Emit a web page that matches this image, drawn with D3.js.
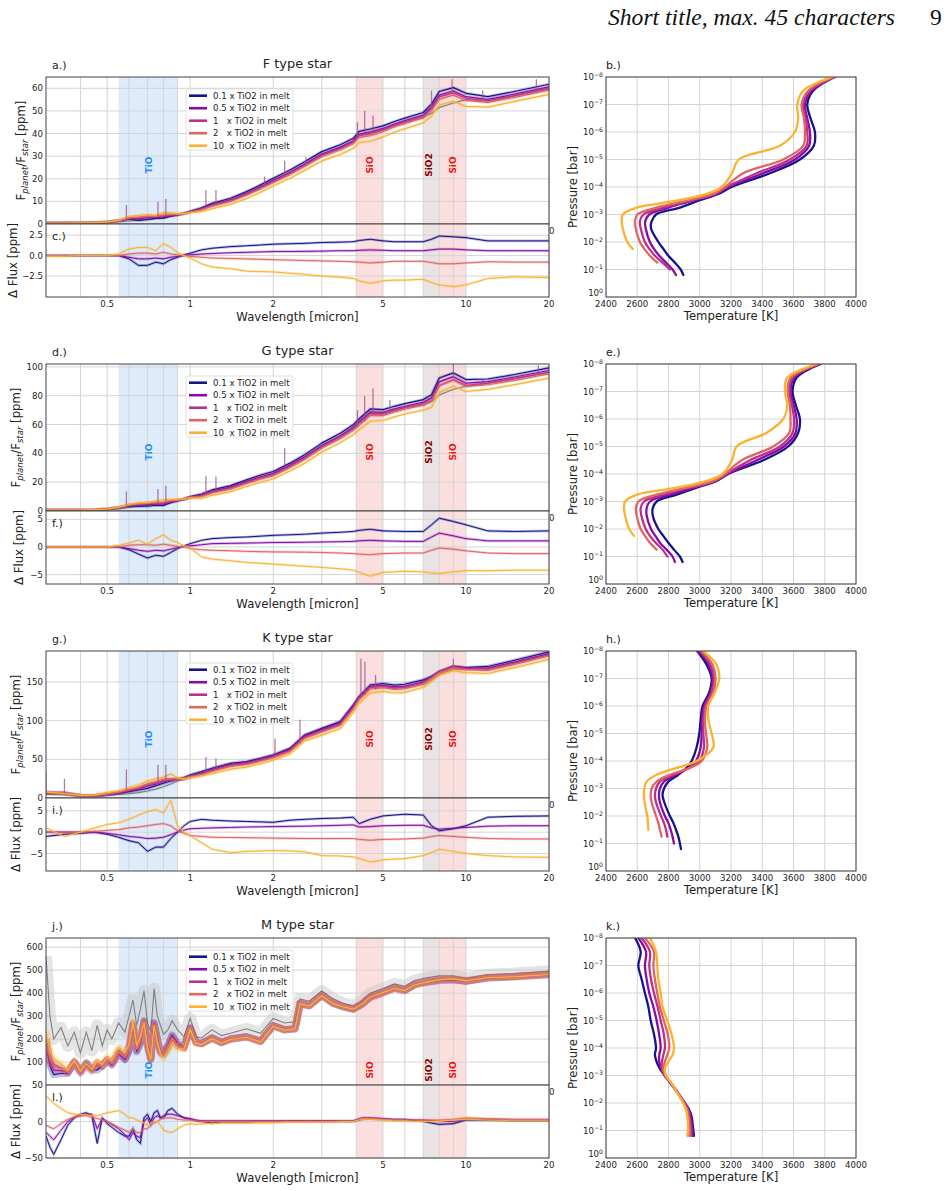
<!DOCTYPE html>
<html>
<head>
<meta charset="utf-8">
<script src="https://cdn.jsdelivr.net/npm/d3@7"></script>
<style>
  body { margin: 0; background: #fff; }
  svg text { font-family: "DejaVu Sans", sans-serif; fill: #222; }
</style>
</head>
<body>
<svg id="fig" width="951" height="1191"></svg>
<script>
// ---------- data ----------
var seriesNames = ["0.1 x TiO2 in melt", "0.5 x TiO2 in melt", "1   x TiO2 in melt", "2   x TiO2 in melt", "10  x TiO2 in melt"];
var seriesColors = ["#14148c", "#8b0aa5", "#b83289", "#e16462", "#fbb32f"];
var starTitles = ["F type star", "G type star", "K type star", "M type star"];
var panelTags = [["a.)", "c.)", "b.)"], ["d.)", "f.)", "e.)"], ["g.)", "i.)", "h.)"], ["j.)", "l.)", "k.)"]];

var wlTicks = [0.5, 1, 2, 5, 10, 20];
var wlGrid = [0.4, 0.5, 0.6, 0.7, 0.8, 0.9, 1, 2, 3, 4, 5, 6, 7, 8, 9, 10, 20];
var bandNames = ["TiO", "SiO", "SiO2", "SiO"];
var bandLo = [0.55, 4, 7, 8];
var bandHi = [0.9, 5, 8, 10];
var bandLabelWl = [0.71, 4.47, 7.35, 8.97];

// wavelength grid [micron] for F, G, K spectra
var wl = [0.30,0.35,0.40,0.45,0.50,0.55,0.60,0.65,0.70,0.75,0.80,0.85,0.90,0.95,1.0,1.1,1.2,1.4,1.6,1.8,2.0,2.3,2.6,3.0,3.5,3.9,4.1,4.5,5.0,5.5,6.0,7.0,7.5,8.0,9.0,10,12,15,20];

// F star: 1x TiO2 spectrum [ppm], no-TiO reference (grey), deltas of the other melts
var refF = [0.4,0.4,0.5,0.6,0.9,1.5,2.6,2.8,3.2,3.3,3.6,4.0,4.2,4.6,5.3,6.5,8.2,10.3,13.1,16.0,18.8,22.4,26.0,30.4,33.4,36.2,39.1,40.0,41.6,43.6,45.1,47.6,51.0,56.2,58.0,55.6,54.5,56.8,60.0];
var grayF = [0.3,0.3,0.3,0.4,0.6,0.9,1.3,1.7,2.1,2.5,3.0,3.5,4.0,4.5,5.2,6.5,8.2,10.3,13.1,16.0,18.8,22.4,26.0,30.4,33.4,36.2,39.1,40.0,41.6,43.6,45.1,47.2,49.0,51.5,53.5,55.0,54.3,56.6,59.8];
var dNavyF = [0,0,0,0,0,0,-0.4,-1.2,-1.2,-0.8,-1.0,-0.5,-0.2,0.1,0.3,0.7,0.9,1.1,1.2,1.3,1.4,1.45,1.5,1.6,1.65,1.7,1.85,2.0,1.8,1.7,1.7,1.7,2.0,2.4,2.3,2.2,1.8,1.8,1.8];
var dPurpleF = [0,0,0,0,0,0,-0.2,-0.4,-0.4,-0.3,-0.4,-0.2,-0.1,0,0.1,0.2,0.25,0.35,0.4,0.45,0.5,0.5,0.52,0.55,0.6,0.6,0.65,0.7,0.65,0.6,0.6,0.6,0.7,0.8,0.8,0.7,0.6,0.6,0.6];
var dRedF = [0,0,0,0,0,0,0.2,0.3,0.3,0.2,0.4,0.2,0.1,0,-0.1,-0.2,-0.3,-0.35,-0.4,-0.45,-0.5,-0.55,-0.6,-0.65,-0.7,-0.75,-0.8,-0.9,-0.8,-0.7,-0.7,-0.7,-0.85,-1.0,-1.0,-0.9,-0.75,-0.8,-0.8];
var dYellowF = [-0.1,-0.1,0,0,0,0.2,0.8,1.0,1.0,0.6,1.5,1.0,0.4,0,-0.3,-1.0,-1.4,-1.6,-1.9,-1.95,-2.0,-2.15,-2.3,-2.5,-2.65,-2.8,-3.1,-3.4,-3.1,-3.0,-3.0,-2.9,-3.3,-3.6,-3.8,-3.6,-2.8,-2.6,-2.7];
var spikesF = [[0.587,2.5,8.4],[0.764,3.4,9.9],[0.816,3.7,11],[1.14,7,15],[1.24,8.5,15],[1.86,17,21],[2.2,21,28],[2.63,26,29.5],[4.04,38,45],[4.29,40,50],[4.6,41,48],[7.5,51,59],[8.9,58,64],[11.5,55,59],[18,59,64]];

// G star
var refG = [0.7,0.7,0.7,0.9,1.4,2.5,4.0,4.6,5.3,5.5,5.6,6.8,7.4,8.2,9.4,10.6,13.1,15.9,19.8,23.0,25.3,31.0,36.7,44.6,51.3,57.1,61.0,67.6,67.4,69.8,71.7,74.5,76.7,87.1,91.2,87.2,88.7,91.9,96.4];
var grayG = [0.5,0.5,0.5,0.6,1.0,1.5,2.5,3.3,4.0,4.8,5.5,6.3,7.0,7.8,9.0,10.6,13.1,15.9,19.8,23.0,25.3,31.0,36.7,44.6,51.3,57.1,61.0,67.6,67.4,69.8,71.7,73.5,76.0,80.5,84.5,86.5,88.5,91.8,96.3];
var dNavyG = [0,0,0,0,0,0,-0.5,-1.3,-2.0,-1.5,-1.7,-1.0,-0.3,0.2,0.6,1.2,1.5,1.7,1.8,1.95,2.1,2.2,2.3,2.5,2.65,2.8,3.0,3.2,2.9,2.85,2.8,2.8,4.0,5.2,4.6,4.0,2.9,2.8,2.9];
var dPurpleG = [0,0,0,0,0,0,-0.3,-0.6,-0.8,-0.6,-0.7,-0.4,-0.1,0.1,0.2,0.4,0.6,0.65,0.7,0.75,0.8,0.82,0.85,0.9,0.95,1.0,1.1,1.2,1.1,1.05,1.0,1.0,1.8,2.5,2.0,1.5,1.1,1.1,1.1];
var dRedG = [0,0,0,0,0,0,0.3,0.4,0.4,0.3,0.5,0.3,0.1,0,-0.3,-0.5,-0.6,-0.7,-0.8,-0.85,-0.9,-0.92,-0.95,-1.0,-1.1,-1.2,-1.3,-1.4,-1.2,-1.15,-1.1,-1.1,-0.6,-0.2,-0.4,-0.7,-1.1,-1.2,-1.2];
var dYellowG = [0,0,0,0,0,0.3,0.7,1.2,0.5,1.5,2.2,1.2,0.8,0.2,-0.2,-1.8,-2.2,-2.5,-2.8,-2.95,-3.1,-3.3,-3.5,-3.7,-3.95,-4.2,-4.6,-5.3,-4.6,-4.5,-4.4,-4.5,-4.7,-4.8,-4.5,-4.3,-4.3,-4.2,-4.2];
var spikesG = [[0.587,4,13.5],[0.764,5.5,15.3],[0.816,6,17.6],[1.14,11,24.4],[1.24,13,24],[2.2,30,43.6],[4.04,58,70],[4.29,62,80],[4.6,68,85],[5.3,68,77],[9,92,102],[11.5,88,91],[18.3,96,101]];

// K star
var refK = [7,6.5,3.3,3,5.2,7.2,10.2,12.8,17,19.5,22.5,23.5,24.6,24.8,27.2,31,35.6,42.2,44.5,48.9,53.3,61.4,78.5,86.8,95.4,116.5,129,143,144.2,142,142.8,148.6,155.5,162.7,169.2,167,166.5,174.3,185.2];
var grayK = [5,4,2,2,3,4.5,5.5,7,9,11.5,14.5,18,22,24.5,27,31,35.6,42.2,44.5,48.9,53.3,61.4,78.5,86.8,95.4,116.5,129,143,144.2,142,142.8,147,152,160,166,166.5,166.5,174.3,185.2];
var dNavyK = [-1,-0.5,-0.3,0,-0.5,-1.2,-2,-2.5,-4.5,-3.5,-3.5,-1.5,0,1.5,2.5,3.0,2.8,2.6,2.5,2.4,2.3,2.8,3.0,3.2,3.3,3.5,2.0,3.0,3.8,4.0,4.2,4.0,1.5,0.3,0.8,1.5,3.5,3.7,3.8];
var dPurpleK = [0,0,0,0,-0.3,-0.6,-1,-1.2,-1.5,-1.4,-1.2,-0.6,0,0.5,0.8,0.9,1.0,1.1,1.2,1.25,1.3,1.35,1.4,1.5,1.6,1.7,1.2,1.3,1.5,1.55,1.6,1.6,1.0,0.7,0.9,1.1,1.4,1.5,1.5];
var dRedK = [0,0,0,0.2,0.4,0.6,1.0,1.2,1.5,1.8,2.0,1.5,0.3,-0.3,-0.8,-1.0,-1.2,-1.25,-1.3,-1.35,-1.4,-1.45,-1.5,-1.5,-1.5,-1.5,-1.7,-1.9,-1.7,-1.65,-1.6,-1.4,-1.0,-0.8,-1.0,-1.2,-1.5,-1.6,-1.6];
var dYellowK = [1,-1,0,1.0,1.8,2.2,3.0,4.0,4.8,5.3,4.5,7.5,1.5,0,-0.8,-2.5,-4.0,-4.8,-4.5,-4.4,-4.3,-4.4,-4.6,-5.5,-5.6,-5.8,-6.2,-7.0,-6.5,-6.3,-6.2,-5.5,-4.8,-4.0,-4.5,-5.0,-5.5,-5.8,-5.9];
var spikesK = [[0.3,7,34],[0.35,6,25],[0.587,9,37],[0.764,18,43],[0.816,21,43],[1.14,33,53],[1.24,36,51],[2.03,55,77],[2.5,70,101],[4.16,130,180],[4.3,133,176],[4.7,140,159],[9,169,180]];

// M star, denser grid because of the molecular bands
var wlM = [0.30,0.31,0.32,0.34,0.36,0.38,0.40,0.42,0.44,0.46,0.48,0.50,0.52,0.55,0.58,0.60,0.62,0.64,0.66,0.68,0.70,0.72,0.74,0.76,0.78,0.80,0.83,0.86,0.90,0.95,1.0,1.05,1.1,1.2,1.3,1.4,1.6,1.8,2.0,2.2,2.4,2.5,2.7,3.0,3.3,3.6,3.9,4.2,4.5,5.0,5.5,6.0,6.5,7.0,8.0,9.0,10,12,15,20];
var refM = [200,120,90,75,55,95,50,85,60,95,80,110,95,150,130,170,270,170,210,275,170,115,260,190,140,130,160,200,170,160,245,185,180,205,185,200,210,190,258,240,245,355,345,390,355,340,330,350,380,400,420,410,435,445,458,460,450,465,470,480];
var grayM = [560,300,200,250,170,230,140,230,150,260,170,240,200,270,230,300,370,260,330,410,270,230,420,300,260,220,240,280,240,210,290,210,205,240,215,225,245,225,290,270,275,375,365,410,375,355,345,365,400,420,440,430,455,465,475,475,465,480,485,495];
var dNavyM = [-20,-35,-45,-25,-5,5,10,12,8,-30,5,-3,-8,-15,-20,-20,-10,-25,-30,5,10,0,12,15,5,5,15,18,10,5,3,1,0,-2,-1,-1,-1,0,0,0,0,0,0,0,0,0,0,3,4,3,2,2,1,0,-4,-3,2,2,1,1];
var dPurpleM = [-15,-20,-25,-12,0,6,8,10,10,-10,4,0,-4,-10,-18,-25,-15,-20,-22,0,5,-5,5,8,5,8,10,10,8,5,4,2,1,1,1,1,1,1,1,1,1,1,1,1,1,1,1,5,5,4,3,3,2,2,0,0,3,3,2,2];
var dRedM = [-5,-8,-10,-3,3,6,8,8,6,4,2,0,-3,-8,-12,-15,-10,-15,-15,-10,-10,-5,-2,0,3,5,5,5,3,2,2,1,0,0,0,0,0,0,0,0,0,0,0,0,0,0,0,4,4,3,2,2,2,2,2,3,5,4,3,3];
var dYellowM = [35,30,25,18,12,10,10,9,8,8,10,12,13,15,10,5,5,2,0,-2,-5,-3,0,0,-5,-12,-14,-15,-10,-5,-3,-4,-3,-3,-2,-2,-2,-2,-2,-1,-1,-1,-1,-1,-1,0,0,3,3,2,1,1,0,0,0,2,3,2,1,1];

// T-P profiles: pressure levels [bar] and temperature [K] per melt (shorter list = profile ends higher up)
var tpPres = [1e-8,3.16e-8,1e-7,3.16e-7,1e-6,3.16e-6,1e-5,3.16e-5,1e-4,1.78e-4,3.16e-4,5.62e-4,1e-3,1.78e-3,3.16e-3,1e-2,1.78e-2,3.16e-2,5.62e-2,0.1,0.158];
var tpNavyF = [3860,3726,3688,3709,3737,3730,3641,3449,3204,3119,2991,2873,2720,2692,2688,2735,2767,2799,2841,2878,2895];
var tpPurpleF = [3865,3716,3673,3688,3705,3700,3609,3406,3182,3104,2954,2799,2677,2651,2654,2681,2707,2741,2784,2826,2848];
var tpMagentaF = [3860,3705,3662,3678,3688,3684,3577,3364,3172,3097,2937,2767,2639,2617,2622,2649,2677,2713,2762,2809];
var tpRedF = [3855,3694,3652,3667,3673,3662,3534,3278,3161,3087,2916,2724,2600,2586,2590,2617,2645,2681,2728];
var tpYellowF = [3850,3662,3624,3630,3609,3513,3250,3206,3140,3044,2852,2596,2507,2500,2507,2536,2571];
var tpNavyG = [3773,3620,3594,3615,3641,3630,3566,3406,3182,3108,2980,2852,2724,2699,2699,2735,2767,2799,2835,2873,2890];
var tpPurpleG = [3770,3605,3581,3601,3620,3613,3539,3364,3176,3101,2959,2809,2681,2660,2660,2688,2716,2745,2788,2826,2841];
var tpMagentaG = [3765,3594,3573,3590,3603,3594,3513,3321,3168,3095,2937,2767,2643,2622,2626,2654,2681,2718,2762,2792];
var tpRedG = [3760,3581,3562,3577,3581,3573,3470,3268,3161,3087,2916,2724,2607,2592,2596,2622,2649,2681,2724];
var tpYellowG = [3748,3560,3545,3560,3534,3428,3236,3206,3146,3044,2852,2600,2522,2515,2522,2549,2579];
var tpNavyK = [2984,3044,3076,3061,3018,3006,2997,2980,2948,2916,2863,2799,2771,2762,2773,2809,2831,2848,2863,2873,2880];
var tpPurpleK = [2993,3057,3082,3069,3027,3014,3012,3006,2976,2927,2848,2771,2745,2739,2745,2777,2799,2814,2826,2835];
var tpMagentaK = [3001,3069,3091,3076,3035,3023,3023,3027,2997,2933,2831,2745,2720,2713,2720,2752,2771,2784,2792];
var tpRedK = [3012,3082,3101,3087,3044,3033,3040,3048,3012,2937,2809,2724,2692,2686,2692,2720,2735,2745,2756];
var tpYellowK = [3023,3108,3125,3097,3055,3055,3076,3087,2980,2852,2724,2660,2645,2643,2647,2664,2668,2671];
var tpNavyM = [2586,2622,2607,2628,2649,2671,2686,2707,2720,2713,2724,2745,2777,2809,2841,2905,2933,2948,2954,2959,2963];
var tpPurpleM = [2607,2656,2649,2660,2677,2703,2724,2740,2750,2741,2741,2752,2775,2810,2843,2903,2929,2942,2948,2952,2954];
var tpMagentaM = [2628,2681,2677,2688,2707,2730,2750,2770,2777,2767,2758,2758,2777,2812,2843,2901,2925,2935,2942,2946,2946];
var tpRedM = [2649,2707,2703,2713,2728,2745,2770,2795,2805,2792,2777,2767,2780,2814,2843,2899,2920,2929,2933,2935,2933];
var tpYellowM = [2681,2720,2728,2735,2750,2762,2792,2820,2835,2826,2799,2777,2784,2816,2841,2894,2912,2920,2925,2925,2920];

var tempTicks = [2400,2600,2800,3000,3200,3400,3600,3800,4000];
var presTicks = [1e-8,1e-7,1e-6,1e-5,1e-4,1e-3,1e-2,1e-1,1];

// ---------- layout ----------
var svg = d3.select("#fig");
var xL = [46, 549], xR = [606, 856];
var rowTop = [77, 364, 651, 938];
var mainH = 147, deltaH = 73;
var wlScale = d3.scaleLog().domain([0.3, 20]).range(xL);
var tScale = d3.scaleLinear().domain([2400, 4000]).range(xR);
var gridColor = "#d4d4d4", frameColor = "#444";
var bandFill = ["#5a9bea", "#f08080", "#a08080", "#f08080"];
var bandOpacity = [0.2, 0.25, 0.22, 0.25];
var bandTextColor = ["#1e90ff", "#ee1111", "#8b0000", "#ee1111"];

var defs = svg.append("defs");
var clipCount = 0;
function clipRect(x, y, w, h){
  var id = "clip" + (clipCount++);
  defs.append("clipPath").attr("id", id).append("rect")
      .attr("x", x).attr("y", y).attr("width", w).attr("height", h);
  return "url(#" + id + ")";
}

// header
svg.append("text").attr("x", 608).attr("y", 25)
   .style("font-family", "'Liberation Serif', serif").style("font-style", "italic")
   .style("font-size", "23.6px").style("fill", "#111")
   .text("Short title, max. 45 characters");
svg.append("text").attr("x", 930).attr("y", 25)
   .style("font-family", "'Liberation Serif', serif")
   .style("font-size", "23.6px").style("fill", "#111").text("9");

var stars = [
  {wl: wl, ref: refF, gray: grayF, deltas: [dNavyF, dPurpleF, null, dRedF, dYellowF], spikes: spikesF,
   yMain: [0, 65], yDelta: [-5.07, 3.87], ticksMain: [0,10,20,30,40,50,60], ticksDelta: [2.5,0,-2.5], fmtDelta: ".1f",
   labelX: [21, 13], bandLabelY: 88, noise: 3, grayNoise: 3, tp: [tpNavyF, tpPurpleF, tpMagentaF, tpRedF, tpYellowF]},
  {wl: wl, ref: refG, gray: grayG, deltas: [dNavyG, dPurpleG, null, dRedG, dYellowG], spikes: spikesG,
   yMain: [0, 102], yDelta: [-6.7, 6.5], ticksMain: [0,20,40,60,80,100], ticksDelta: [5,0,-5], fmtDelta: "d",
   labelX: [16, 19], bandLabelY: 88, noise: 3, grayNoise: 3, tp: [tpNavyG, tpPurpleG, tpMagentaG, tpRedG, tpYellowG]},
  {wl: wl, ref: refK, gray: grayK, deltas: [dNavyK, dPurpleK, null, dRedK, dYellowK], spikes: spikesK,
   yMain: [0, 190], yDelta: [-9.1, 8.0], ticksMain: [0,50,100,150], ticksDelta: [5,0,-5], fmtDelta: "d",
   labelX: [16, 16], bandLabelY: 88, noise: 3.5, grayNoise: 3, tp: [tpNavyK, tpPurpleK, tpMagentaK, tpRedK, tpYellowK]},
  {wl: wlM, ref: refM, gray: grayM, deltas: [dNavyM, dPurpleM, null, dRedM, dYellowM], spikes: [],
   yMain: [0, 640], yDelta: [-50, 50], ticksMain: [100,200,300,400,500,600], ticksDelta: [50,0,-50], fmtDelta: "d",
   labelX: [16, 16], bandLabelY: 132, noise: 7, grayNoise: 12, tp: [tpNavyM, tpPurpleM, tpMagentaM, tpRedM, tpYellowM]}
];

function drawBandsAndGrid(g, top, h){
  bandLo.forEach(function(lo, i){
    g.append("rect").attr("x", wlScale(lo)).attr("y", top)
     .attr("width", wlScale(bandHi[i]) - wlScale(lo)).attr("height", h)
     .attr("fill", bandFill[i]).attr("fill-opacity", bandOpacity[i]);
  });
  g.selectAll("line.vgrid").data(wlGrid).join("line").attr("class", "vgrid")
   .attr("x1", function(d){ return wlScale(d); }).attr("x2", function(d){ return wlScale(d); })
   .attr("y1", top).attr("y2", top + h)
   .attr("stroke", gridColor).attr("stroke-width", 1);
}

function hGrid(g, ticks, y){
  g.selectAll(null).data(ticks).join("line")
   .attr("x1", xL[0]).attr("x2", xL[1])
   .attr("y1", function(d){ return y(d); }).attr("y2", function(d){ return y(d); })
   .attr("stroke", gridColor).attr("stroke-width", 1);
}

function yTickLabels(g, ticks, y, fmt){
  g.selectAll(null).data(ticks).join("text")
   .attr("x", xL[0] - 3).attr("y", function(d){ return y(d); }).attr("dy", "0.35em")
   .attr("text-anchor", "end").style("font-size", "8.6px")
   .text(fmt);
}

function xTickLabels(g, yBase){
  g.selectAll(null).data(wlTicks).join("text")
   .attr("x", function(d){ return wlScale(d); }).attr("y", yBase)
   .attr("text-anchor", "middle").style("font-size", "8.6px")
   .text(function(d){ return d; });
}

function frame(g, x0, y0, w, h){
  g.append("rect").attr("x", x0).attr("y", y0).attr("width", w).attr("height", h)
   .attr("fill", "none").attr("stroke", frameColor).attr("stroke-width", 1);
}

function drawSpectra(row, s){
  var top = rowTop[row], bot = top + mainH, dBot = bot + deltaH;
  var yM = d3.scaleLinear().domain(s.yMain).range([bot, top]);
  var yD = d3.scaleLinear().domain(s.yDelta).range([dBot, bot]);
  var w = xL[1] - xL[0];

  // ---- upper panel: planet/star flux ratio ----
  var g = svg.append("g");
  g.append("rect").attr("x", xL[0]).attr("y", top).attr("width", w).attr("height", mainH).attr("fill", "#fff");
  drawBandsAndGrid(g, top, mainH);
  hGrid(g, s.ticksMain, yM);

  var lineM = d3.line().x(function(d){ return wlScale(d[0]); }).y(function(d){ return yM(d[1]); });
  var plot = g.append("g").attr("clip-path", clipRect(xL[0], top, w, mainH));

  var grayPts = s.wl.map(function(v, j){ return [v, s.gray[j]]; });
  plot.append("path").datum(grayPts).attr("d", lineM).attr("fill", "none")
      .attr("stroke", "#c4c4c4").attr("stroke-opacity", 0.45).attr("stroke-width", s.grayNoise).attr("stroke-linejoin", "round");
  plot.append("path").datum(grayPts).attr("d", lineM).attr("fill", "none")
      .attr("stroke", "#7f7f7f").attr("stroke-width", 1.1);

  s.deltas.forEach(function(dl, i){
    var pts = s.wl.map(function(v, j){ return [v, s.ref[j] + (dl ? dl[j] : 0)]; });
    plot.append("path").datum(pts).attr("d", lineM).attr("fill", "none")
        .attr("stroke", seriesColors[i]).attr("stroke-opacity", 0.28)
        .attr("stroke-width", s.noise).attr("stroke-linejoin", "round");
    plot.append("path").datum(pts).attr("d", lineM).attr("fill", "none")
        .attr("stroke", seriesColors[i]).attr("stroke-width", 1.2).attr("stroke-linejoin", "round");
  });

  plot.selectAll("line.spike").data(s.spikes).join("line").attr("class", "spike")
      .attr("x1", function(d){ return wlScale(d[0]); }).attr("x2", function(d){ return wlScale(d[0]); })
      .attr("y1", function(d){ return yM(d[1]); }).attr("y2", function(d){ return yM(d[2]); })
      .attr("stroke", "#9a4f8f").attr("stroke-opacity", 0.75).attr("stroke-width", 1.3);

  bandNames.forEach(function(name, i){
    g.append("text")
     .attr("transform", "translate(" + (wlScale(bandLabelWl[i]) + 3) + "," + (top + s.bandLabelY) + ") rotate(-90)")
     .attr("text-anchor", "middle").style("font-size", "9px").style("font-weight", "bold")
     .style("fill", bandTextColor[i]).text(name);
  });

  // legend
  var lg = g.append("g").attr("transform", "translate(" + (xL[0] + 140) + "," + (top + 12) + ")");
  lg.append("rect").attr("width", 107).attr("height", 61).attr("rx", 2)
    .attr("fill", "#fff").attr("fill-opacity", 0.85).attr("stroke", "#d8d8d8").attr("stroke-width", 0.8);
  seriesNames.forEach(function(name, i){
    var ly = 6.7 + i * 12.5;
    lg.append("line").attr("x1", 3).attr("x2", 21).attr("y1", ly).attr("y2", ly)
      .attr("stroke", seriesColors[i]).attr("stroke-width", 2.6);
    lg.append("text").attr("x", 27).attr("y", ly).attr("dy", "0.35em")
      .attr("xml:space", "preserve").style("white-space", "pre")
      .style("font-size", "8.6px").text(name);
  });

  frame(g, xL[0], top, w, mainH);
  yTickLabels(g, s.ticksMain, yM, function(d){ return d; });
  xTickLabels(g, bot + 10);   // mostly hidden behind the lower panel, as in the original

  g.append("text").attr("x", (xL[0] + xL[1]) / 2).attr("y", top - 9)
   .attr("text-anchor", "middle").style("font-size", "12.9px").text(starTitles[row]);
  g.append("text").attr("x", 52).attr("y", top - 8).style("font-size", "11px").text(panelTags[row][0]);

  var yl = g.append("text").attr("transform", "translate(" + (s.labelX[0] + 4) + "," + (top + mainH / 2) + ") rotate(-90)")
            .attr("text-anchor", "middle").style("font-size", "11.7px");
  yl.append("tspan").text("F");
  yl.append("tspan").attr("dy", 3).style("font-size", "8.5px").style("font-style", "italic").text("planet");
  yl.append("tspan").attr("dy", -3).text("/F");
  yl.append("tspan").attr("dy", 3).style("font-size", "8.5px").style("font-style", "italic").text("star");
  yl.append("tspan").attr("dy", -3).text(" [ppm]");

  // ---- lower panel: delta flux ----
  var gd = svg.append("g");
  gd.append("rect").attr("x", xL[0]).attr("y", bot).attr("width", w).attr("height", deltaH).attr("fill", "#fff");
  drawBandsAndGrid(gd, bot, deltaH);
  hGrid(gd, s.ticksDelta, yD);
  var lineD = d3.line().x(function(d){ return wlScale(d[0]); }).y(function(d){ return yD(d[1]); });
  var dplot = gd.append("g").attr("clip-path", clipRect(xL[0], bot, w, deltaH));
  s.deltas.forEach(function(dl, i){
    if(!dl){ return; }
    var pts = s.wl.map(function(v, j){ return [v, dl[j]]; });
    dplot.append("path").datum(pts).attr("d", lineD).attr("fill", "none")
         .attr("stroke", seriesColors[i]).attr("stroke-opacity", 0.3).attr("stroke-width", 2.6);
    dplot.append("path").datum(pts).attr("d", lineD).attr("fill", "none")
         .attr("stroke", seriesColors[i]).attr("stroke-width", 1);
  });
  frame(gd, xL[0], bot, w, deltaH);
  yTickLabels(gd, s.ticksDelta, yD, d3.format(s.fmtDelta));
  xTickLabels(gd, dBot + 10);
  gd.append("text").attr("x", 52).attr("y", bot + 16).style("font-size", "11px").text(panelTags[row][1]);
  gd.append("text").attr("x", (xL[0] + xL[1]) / 2).attr("y", dBot + 24)
    .attr("text-anchor", "middle").style("font-size", "11.7px").text("Wavelength [micron]");
  gd.append("text").attr("transform", "translate(" + (s.labelX[1] + 4) + "," + (bot + deltaH / 2) + ") rotate(-90)")
    .attr("text-anchor", "middle").style("font-size", "11.7px").text("\u0394 Flux [ppm]");
}

function drawTP(row, s){
  var top = rowTop[row], h = mainH + deltaH, bot = top + h;
  var yP = d3.scaleLog().domain([1e-8, 1]).range([top, bot]);
  var w = xR[1] - xR[0];
  var g = svg.append("g");
  g.append("rect").attr("x", xR[0]).attr("y", top).attr("width", w).attr("height", h).attr("fill", "#fff");
  g.selectAll(null).data(tempTicks).join("line")
   .attr("x1", function(d){ return tScale(d); }).attr("x2", function(d){ return tScale(d); })
   .attr("y1", top).attr("y2", bot).attr("stroke", gridColor);
  g.selectAll(null).data(presTicks).join("line")
   .attr("x1", xR[0]).attr("x2", xR[1])
   .attr("y1", function(d){ return yP(d); }).attr("y2", function(d){ return yP(d); }).attr("stroke", gridColor);

  var line = d3.line().x(function(d){ return tScale(d[0]); }).y(function(d){ return yP(d[1]); })
               .curve(d3.curveCatmullRom.alpha(0.5));
  var plot = g.append("g").attr("clip-path", clipRect(xR[0], top, w, h));
  s.tp.forEach(function(T, i){
    var pts = T.map(function(t, j){ return [t, tpPres[j]]; });
    plot.append("path").datum(pts).attr("d", line).attr("fill", "none")
        .attr("stroke", seriesColors[i]).attr("stroke-width", 2.3).attr("stroke-linecap", "round");
  });
  frame(g, xR[0], top, w, h);

  g.selectAll(null).data(tempTicks).join("text")
   .attr("x", function(d){ return tScale(d); }).attr("y", bot + 10)
   .attr("text-anchor", "middle").style("font-size", "8.6px").text(function(d){ return d; });
  presTicks.forEach(function(p){
    var e = Math.round(Math.log10(p));
    // the bottom label sits a little higher so it clears the 2400 label
    var yy = e === 0 ? yP(p) - 4 : yP(p);
    var t = g.append("text").attr("x", xR[0] - 3).attr("y", yy).attr("dy", "0.35em")
             .attr("text-anchor", "end").style("font-size", "8.6px");
    t.append("tspan").text("10");
    t.append("tspan").attr("dy", "-0.55em").style("font-size", "6.2px").text(e === 0 ? "0" : "\u2212" + (-e));
  });
  g.append("text").attr("x", (xR[0] + xR[1]) / 2).attr("y", bot + 23)
   .attr("text-anchor", "middle").style("font-size", "11.7px").text("Temperature [K]");
  g.append("text").attr("transform", "translate(" + 577 + "," + (top + h / 2) + ") rotate(-90)")
   .attr("text-anchor", "middle").style("font-size", "11.7px").text("Pressure [bar]");
  g.append("text").attr("x", xR[0]).attr("y", top - 8).style("font-size", "11px").text(panelTags[row][2]);
}

stars.forEach(function(s, row){
  drawSpectra(row, s);
  drawTP(row, s);
});
</script>
</body>
</html>
